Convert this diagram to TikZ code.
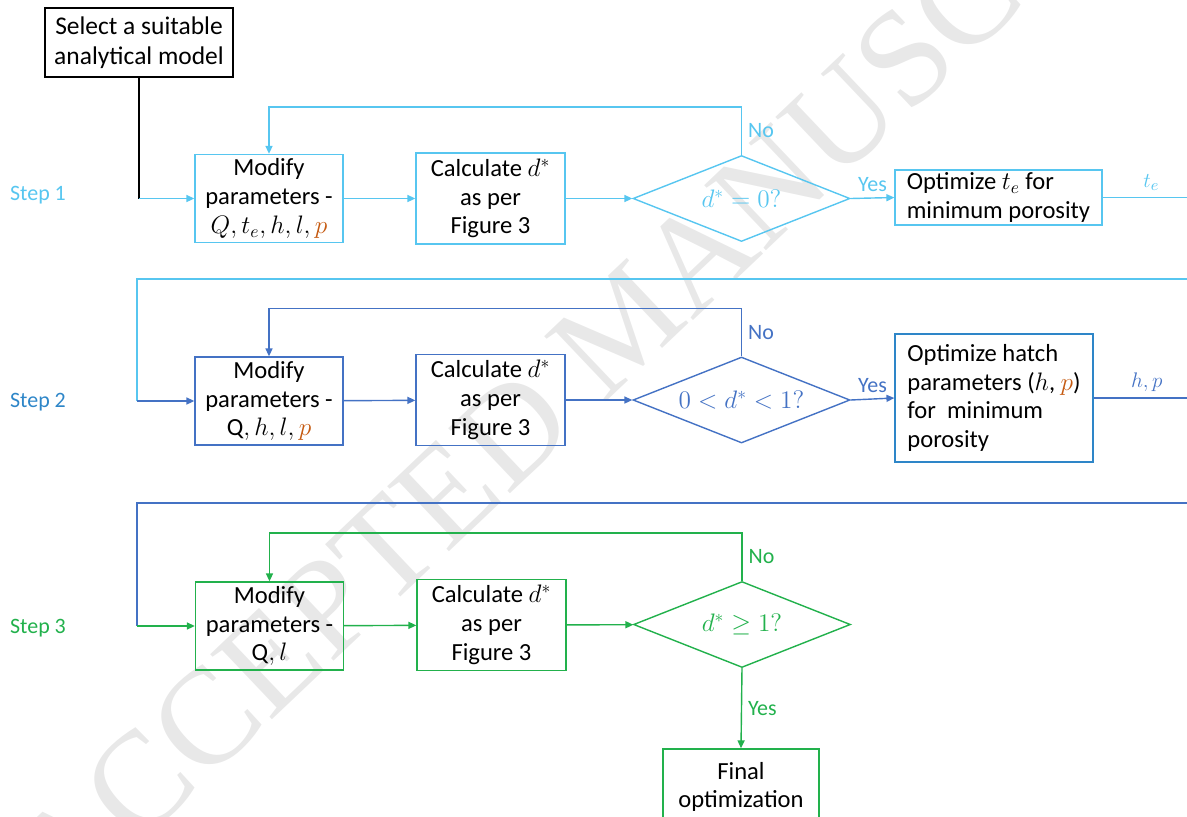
\documentclass[tikz,border=0pt]{standalone}
\usepackage{fontspec}
\setmainfont{Carlito}
\newfontfamily\markfont{Liberation Serif}
\usetikzlibrary{shapes.geometric,arrows.meta}

\definecolor{stepone}{RGB}{87,198,240}
\definecolor{steptwo}{RGB}{68,114,196}
\definecolor{steptwolabel}{RGB}{46,134,200}
\definecolor{stepthree}{RGB}{34,177,76}
\definecolor{porange}{RGB}{197,90,17}
\definecolor{markgray}{RGB}{232,232,232}

\tikzset{
    box/.style={draw, line width=0.8pt, align=center, inner sep=0pt, font=\fontsize{14}{16.4}\selectfont},
    modbox/.style={box, minimum width=2.96cm, minimum height=1.76cm},
    calcbox/.style={box, minimum width=2.98cm, minimum height=1.82cm},
    optbox/.style={box, align=left},
    decide/.style={diamond, draw, line width=0.8pt, inner sep=0pt, aspect=2.5, minimum width=4.34cm, minimum height=1.72cm, font=\fontsize{14}{16}\selectfont},
    link/.style={line width=0.8pt},
    arr/.style={link, -{Triangle[length=4.5pt,width=4pt]}},
    lbl/.style={font=\fontsize{12.5}{15}\selectfont},
}

\begin{document}
\begin{tikzpicture}[x=0.02cm, y=-0.02cm]
    \useasboundingbox (0,0) rectangle (1187,816);
    \clip (0,0) rectangle (1187,816);

    % watermark
    \node[text=markgray, rotate=43.5, font=\markfont\fontsize{78}{78}\selectfont] (mark) at (624,324) {ACCEPTED MANUSCRIPT};

    \node[box, minimum width=3.76cm, minimum height=1.38cm, font=\fontsize{14.5}{17}\selectfont] (select) at (139,42.5) {Select a suitable\\analytical model};

    % step 1
    \node[lbl, text=stepone] (s1) at (38,195) {Step 1};
    \node[modbox, draw=stepone] (mod1) at (269,198.5) {Modify\\parameters -\\$Q, t_e, h, l, \textcolor{porange}{p}$};
    \node[calcbox, draw=stepone] (calc1) at (490.5,198.5) {Calculate $d^*$\\as per\\Figure 3};
    \node[decide, draw=stepone, text=stepone] (dec1) at (741.5,198.5) {$d^* = 0?$};
    \node[optbox, draw=stepone, minimum width=4.14cm, minimum height=1.1cm] (opt1) at (998.5,197.5) {Optimize $t_e$ for\\minimum porosity};

    % step 2
    \node[lbl, text=steptwolabel] (s2) at (38,402) {Step 2};
    \node[modbox, draw=steptwo] (mod2) at (269,401) {Modify\\parameters -\\$\mathrm{Q}, h, l, \textcolor{porange}{p}$};
    \node[calcbox, draw=steptwo] (calc2) at (490.5,400) {Calculate $d^*$\\as per\\Figure 3};
    \node[decide, draw=steptwo, text=steptwo] (dec2) at (741.5,400) {$0 < d^* < 1?$};
    \node[optbox, draw=steptwolabel, minimum width=3.96cm, minimum height=2.56cm] (opt2) at (994,398) {Optimize hatch\\parameters ($h$, $\textcolor{porange}{p}$)\\for\ \ minimum\\porosity};

    % step 3
    \node[lbl, text=stepthree] (s3) at (38,628) {Step 3};
    \node[modbox, draw=stepthree] (mod3) at (269.5,626) {Modify\\parameters -\\$\mathrm{Q}, l$};
    \node[calcbox, draw=stepthree] (calc3) at (491.5,625) {Calculate $d^*$\\as per\\Figure 3};
    \node[decide, draw=stepthree, text=stepthree] (dec3) at (742,624.5) {$d^* \geq 1?$};
    \node[box, draw=stepthree, minimum width=3.12cm, minimum height=1.52cm] (final) at (741,787) {Final\\optimization};

    % step 1 links
    \draw[link] (select.south) -- (select.south |- mod1.west) coordinate (in1);
    \draw[arr, stepone] (in1) -- (mod1.west);
    \draw[arr, stepone] (mod1) -- (calc1);
    \draw[arr, stepone] (calc1) -- (dec1);
    \draw[arr, stepone] (dec1.north) -- node[lbl, right]{No} ++(0,-48) -| (mod1.north);
    \draw[arr, stepone] (dec1.east) -- node[lbl, above]{Yes} (opt1.west);

    \coordinate (back1) at (137,279);
    \draw[link, stepone] (opt1.east) -- node[lbl, above]{$t_e$} (1200,197.5) |- (back1) -- (back1 |- mod2.west) coordinate (in2);

    % step 2 links
    \draw[arr, steptwo] (in2) -- (mod2.west);
    \draw[arr, steptwo] (mod2) -- (calc2);
    \draw[arr, steptwo] (calc2) -- (dec2);
    \draw[arr, steptwo] (dec2.north) -- node[lbl, right]{No} ++(0,-48) -| (mod2.north);
    \draw[arr, steptwo] (dec2.east) -- node[lbl, above]{Yes} (opt2.west);

    \coordinate (back2) at (137,503);
    \draw[link, steptwo] (opt2.east) -- node[lbl, above]{$h, p$} (1200,398) |- (back2) -- (back2 |- mod3.west) coordinate (in3);

    % step 3 links
    \draw[arr, stepthree] (in3) -- (mod3.west);
    \draw[arr, stepthree] (mod3) -- (calc3);
    \draw[arr, stepthree] (calc3) -- (dec3);
    \draw[arr, stepthree] (dec3.north) -- node[lbl, right]{No} ++(0,-48) -| (mod3.north);
    \draw[arr, stepthree] (dec3.south) -- node[lbl, right]{Yes} (final.north);
\end{tikzpicture}
\end{document}
